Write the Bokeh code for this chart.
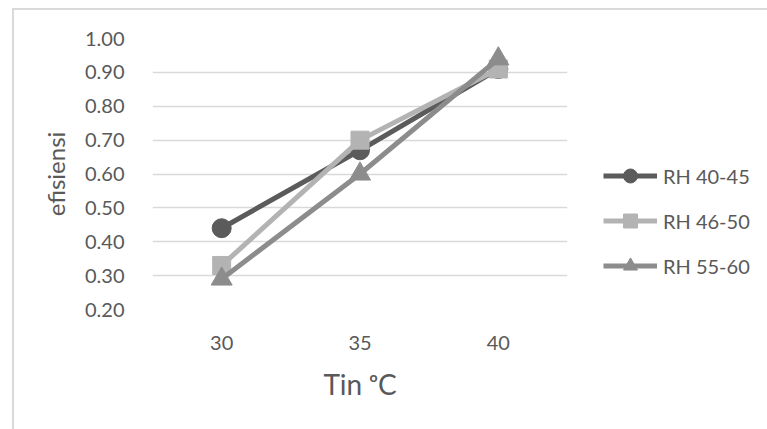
from bokeh.plotting import figure
from bokeh.models import FixedTicker, NumeralTickFormatter, Legend, LegendItem, Range1d
from bokeh.embed import file_html
from bokeh.resources import INLINE

# Efficiency at each inlet temperature, per relative-humidity band
temps = ["30", "35", "40"]
rh_40_45 = [0.44, 0.67, 0.91]
rh_46_50 = [0.33, 0.70, 0.91]
rh_55_60 = [0.29, 0.60, 0.94]
y_ticks = [0.2, 0.3, 0.4, 0.5, 0.6, 0.7, 0.8, 0.9, 1.0]

FONT = "Lato"
TEXT = "#595959"
GRID = "#d9d9d9"

p = figure(
    x_range=temps, y_range=Range1d(0.2, 1.0),
    frame_width=415, frame_height=271,
    output_backend="svg", toolbar_location=None,
    min_border_left=138, min_border_right=200,
    min_border_top=28, min_border_bottom=120,
    margin=(8, 0, 0, 12),
    styles={"border-left": f"2px solid {GRID}", "border-top": f"2px solid {GRID}"},
)
p.outline_line_color = None
p.background_fill_color = "white"
p.border_fill_color = "white"

p.xgrid.grid_line_color = None
p.ygrid.grid_line_color = GRID
p.ygrid.grid_line_width = 1.5
p.ygrid.ticker = FixedTicker(ticks=y_ticks)

p.yaxis.ticker = FixedTicker(ticks=y_ticks)
p.yaxis.formatter = NumeralTickFormatter(format="0.00")
for ax in (p.xaxis[0], p.yaxis[0]):
    ax.axis_line_color = None
    ax.major_tick_line_color = None
    ax.minor_tick_line_color = None
    ax.major_label_text_font = FONT
    ax.major_label_text_font_size = "20px"
    ax.major_label_text_color = TEXT
    ax.axis_label_text_font = FONT
    ax.axis_label_text_font_style = "normal"
    ax.axis_label_text_color = TEXT

p.yaxis.major_label_standoff = 22
p.yaxis.axis_label = "efisiensi"
p.yaxis.axis_label_text_font_size = "24px"
p.yaxis.axis_label_standoff = 12

p.xaxis.major_label_standoff = 20
p.xaxis.axis_label = "Tin \u1d52C"
p.xaxis.axis_label_text_font_size = "28px"
p.xaxis.axis_label_standoff = 14

series = [
    ("RH 40-45", rh_40_45, "#5b5b5b", "circle", 19),
    ("RH 46-50", rh_46_50, "#b3b3b3", "square", 18),
    ("RH 55-60", rh_55_60, "#8c8c8c", "triangle", 21),
]

items = []
for name, vals, color, marker, size in series:
    ln = p.line(temps, vals, line_color=color, line_width=5)
    sc = p.scatter(temps, vals, marker=marker, size=size,
                   fill_color=color, line_color=color)
    items.append(LegendItem(label=name, renderers=[ln, sc]))

legend = Legend(
    items=items, location=(36, 26),
    glyph_width=54, glyph_height=35, label_height=35,
    label_standoff=6, spacing=10,
    padding=0, margin=0,
    label_text_font=FONT, label_text_font_size="20px", label_text_color=TEXT,
    background_fill_alpha=0, border_line_color=None,
)
p.add_layout(legend, "right")

open("out.html", "w").write(file_html(p, INLINE))
